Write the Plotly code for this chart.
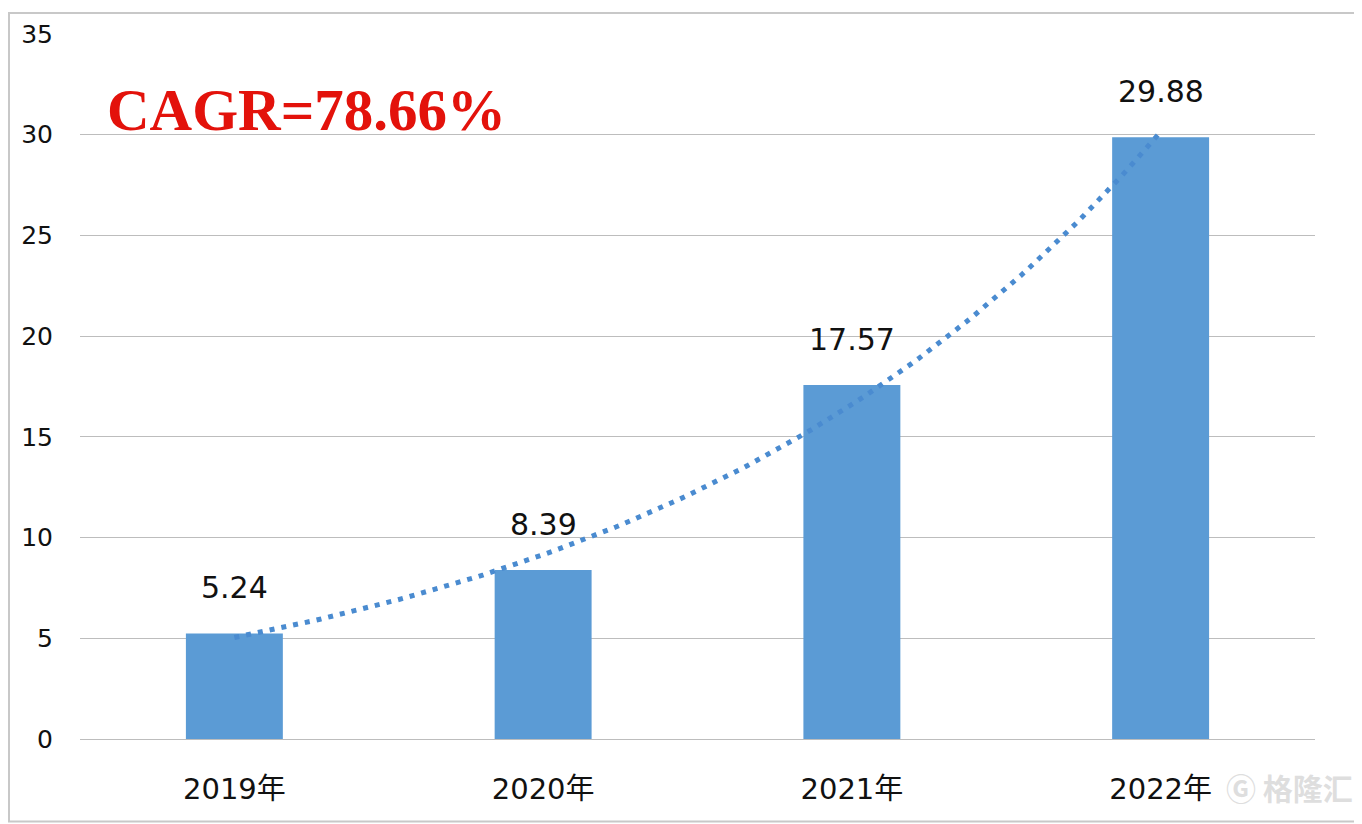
import numpy as np
import plotly.graph_objects as go

# data
years = ["2019年", "2020年", "2021年", "2022年"]
values = [5.24, 8.39, 17.57, 29.88]
y_ticks = [0, 5, 10, 15, 20, 25, 30, 35]
cagr_label = "CAGR=78.66%"

BAR = "#5B9BD5"
TREND = "#4A8BD0"
GRID = "#BDBDBD"

# the page body has an 8px margin, so the figure is shrunk by that much
OFF = 8
W, H = 1362 - OFF, 824 - OFF
ML, MR, MT, MB = 80 - OFF, 47, 30 - OFF, 85
pw, ph = W - ML - MR, H - MT - MB

x_pos = list(range(len(years)))

# exponential trendline (like Excel's), fitted on the values
b, a = np.polyfit(x_pos, np.log(values), 1)
tx = np.linspace(x_pos[0], x_pos[-1], 120)
ty = np.exp(a + b * tx)

fig = go.Figure()
fig.add_trace(go.Bar(
    x=x_pos, y=values,
    width=0.314,
    marker=dict(color=BAR, line=dict(width=0)),
    hoverinfo="skip"
))
fig.add_trace(go.Scatter(
    x=tx, y=ty, mode="lines",
    line=dict(color=TREND, width=5, dash="5px,7px"),
    hoverinfo="skip"
))

# data labels above the bars
for xi, v in zip(x_pos, values):
    fig.add_annotation(
        x=xi, y=v, text=f"{v:.2f}", showarrow=False,
        yshift=46, xanchor="center", yanchor="middle",
        font=dict(family="DejaVu Sans", size=30, color="#111111")
    )

fig.add_annotation(
    xref="paper", yref="y", x=(105 - 80) / pw, y=30,
    text=f"<b>{cagr_label}</b>", showarrow=False,
    xanchor="left", yanchor="bottom", yshift=-10,
    font=dict(family="Liberation Serif", size=59, color="#E3120B")
)

# faint watermark
fig.add_annotation(
    xref="paper", yref="paper", x=(1355 - 80) / pw, y=-(787 - 739) / ph,
    text="<b>Ⓖ 格隆汇</b>", showarrow=False, xanchor="right", yanchor="middle",
    font=dict(family="Noto Sans CJK SC", size=30, color="rgba(200,200,200,0.6)")
)

# outer frame
fig.add_shape(
    type="rect", xref="paper", yref="paper",
    x0=-(ML - 1) / pw, x1=1 + (MR - 2) / pw,
    y0=-(MB - 2) / ph, y1=1 + (MT - 1) / ph,
    line=dict(color="#C8C8C8", width=2), fillcolor="rgba(0,0,0,0)", layer="below"
)

fig.update_layout(
    width=W, height=H,
    margin=dict(l=ML, r=MR, t=MT, b=MB),
    paper_bgcolor="white", plot_bgcolor="white",
    showlegend=False,
    xaxis=dict(
        range=[-0.5, 3.5], tickvals=x_pos, ticktext=years,
        showgrid=False, zeroline=False, showline=False,
        ticks="", ticklabelstandoff=30,
        tickfont=dict(family="DejaVu Sans, Noto Sans CJK SC", size=29, color="#111111")
    ),
    yaxis=dict(
        range=[0, 35], tickvals=y_ticks,
        showgrid=True, gridcolor=GRID, gridwidth=1,
        zeroline=True, zerolinecolor=GRID, zerolinewidth=1,
        showline=False, ticks="", ticklabelstandoff=26,
        tickfont=dict(family="DejaVu Sans", size=25, color="#111111")
    ),
)

fig.write_html("out.html")
